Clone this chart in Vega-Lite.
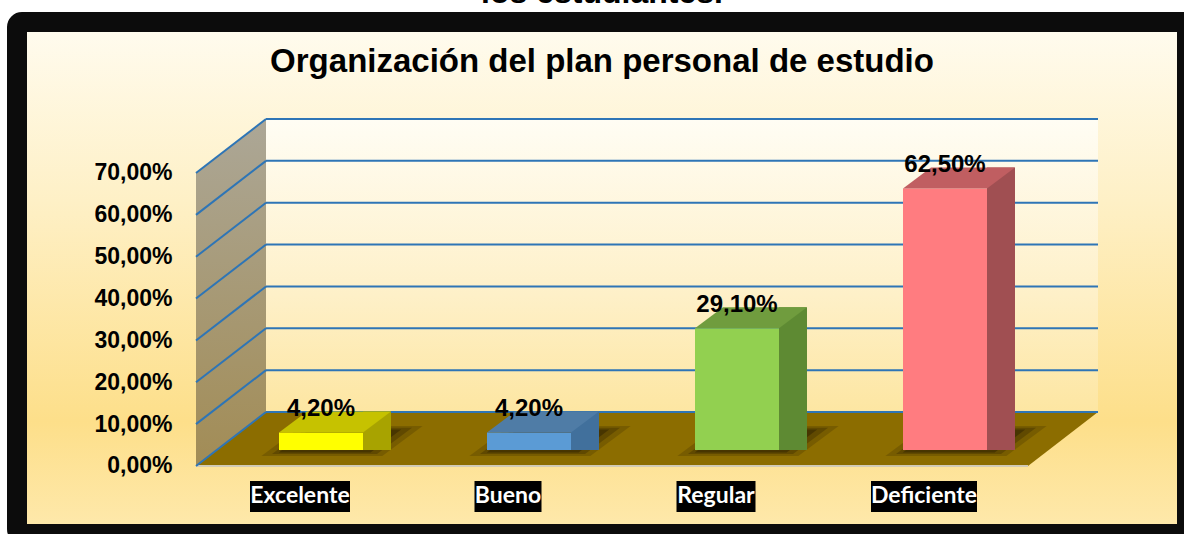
{
  "$schema": "https://vega.github.io/schema/vega-lite/v6.json",
  "width": 1170,
  "height": 512,
  "autosize": {"type": "none"},
  "padding": {"left": 17, "top": 22, "right": 0, "bottom": 0},
  "background": "#ffffff",
  "title": {
    "text": "los estudiantes.",
    "subtitle": "Organización del plan personal de estudio",
    "anchor": "middle",
    "frame": "group",
    "font": "Liberation Sans",
    "fontSize": 32,
    "fontWeight": "bold",
    "color": "#000000",
    "subtitleFont": "Liberation Sans",
    "subtitleFontSize": 33,
    "subtitleFontWeight": "bold",
    "subtitleColor": "#000000",
    "subtitlePadding": 36,
    "offset": -58
  },
  "config": {
    "locale": {"number": {"decimal": ",", "thousands": ".", "grouping": [3], "currency": ["", " €"]}},
    "view": {
      "fill": {"gradient": "linear", "x1": 0, "y1": 0, "x2": 0, "y2": 1, "stops": [
        {"offset": 0, "color": "#fffcf0"},
        {"offset": 0.35, "color": "#fef0c6"},
        {"offset": 0.78, "color": "#fddf8a"},
        {"offset": 1, "color": "#fee9ad"}
      ]},
      "stroke": "#0c0c0c",
      "strokeWidth": 20,
      "cornerRadius": 5
    }
  },
  "datasets": {
    "datos": [
      {"categoria": "Excelente", "porcentaje": 0.042},
      {"categoria": "Bueno", "porcentaje": 0.042},
      {"categoria": "Regular", "porcentaje": 0.291},
      {"categoria": "Deficiente", "porcentaje": 0.625}
    ],
    "reticula": [
      {"valor": 0}, {"valor": 0.1}, {"valor": 0.2}, {"valor": 0.3},
      {"valor": 0.4}, {"valor": 0.5}, {"valor": 0.6}, {"valor": 0.7}
    ],
    "fondo": [{"elemento": "plano"}]
  },
  "layer": [
    {
      "data": {"name": "fondo"},
      "mark": {"type": "point", "filled": true, "opacity": 1, "strokeWidth": 0,
        "shape": "M-1,-0.351 L1,-0.351 L1,0.351 L-1,0.351 Z", "size": 692224,
        "xOffset": -34, "yOffset": -37.5,
        "fill": {"gradient": "linear", "x1": 0, "y1": 0, "x2": 0, "y2": 1, "stops": [
          {"offset": 0, "color": "#fffdf4"},
          {"offset": 0.6, "color": "#fef0c8"},
          {"offset": 1, "color": "#fde6a2"}
        ]}},
      "encoding": {
        "x": {"datum": "Regular", "type": "nominal", "scale": {"type": "band", "domain": ["Excelente", "Bueno", "Regular", "Deficiente"], "range": [179, 1011], "paddingInner": 0, "paddingOuter": 0}, "axis": null},
        "y": {"datum": 0.35, "type": "quantitative", "scale": {"domain": [-0.20067, 1.02246], "nice": false, "zero": false},
          "axis": {"values": [0, 0.1, 0.2, 0.3, 0.4, 0.5, 0.6, 0.7], "format": ".2%", "labelFont": "Liberation Sans", "labelFontSize": 23, "labelFontWeight": "bold", "labelColor": "#000000", "domain": false, "ticks": false, "tickSize": 0, "grid": false, "title": null, "offset": -158, "labelPadding": 3, "labelOffset": 16, "zindex": 1}}
      }
    },
    {
      "data": {"name": "fondo"},
      "mark": {"type": "point", "filled": true, "opacity": 1, "strokeWidth": 0,
        "shape": "M-0.20173,1 L0.20173,0.68876 L0.20173,-1 L-0.20173,-0.68876 Z", "size": 120409,
        "xOffset": -69, "yOffset": -11,
        "fill": {"gradient": "linear", "x1": 0, "y1": 0, "x2": 0, "y2": 1, "stops": [
          {"offset": 0, "color": "#aca797"},
          {"offset": 1, "color": "#a28c55"}
        ]}},
      "encoding": {
        "x": {"datum": "Excelente", "type": "nominal", "scale": {"type": "band", "domain": ["Excelente", "Bueno", "Regular", "Deficiente"], "range": [179, 1011], "paddingInner": 0, "paddingOuter": 0}, "axis": null},
        "y": {"datum": 0.35, "type": "quantitative", "scale": {"domain": [-0.20067, 1.02246], "nice": false, "zero": false},
          "axis": {"values": [0, 0.1, 0.2, 0.3, 0.4, 0.5, 0.6, 0.7], "format": ".2%", "labelFont": "Liberation Sans", "labelFontSize": 23, "labelFontWeight": "bold", "labelColor": "#000000", "domain": false, "ticks": false, "tickSize": 0, "grid": false, "title": null, "offset": -158, "labelPadding": 3, "labelOffset": 16, "zindex": 1}}
      }
    },
    {
      "data": {"name": "fondo"},
      "mark": {"type": "point", "filled": true, "opacity": 1, "strokeWidth": 0,
        "shape": "M-1,0.05987 L0.84479,0.05987 L1,-0.05987 L-0.84479,-0.05987 Z", "size": 813604,
        "xOffset": -69, "yOffset": -11, "fill": "#8c6d00"},
      "encoding": {
        "x": {"datum": "Regular", "type": "nominal", "scale": {"type": "band", "domain": ["Excelente", "Bueno", "Regular", "Deficiente"], "range": [179, 1011], "paddingInner": 0, "paddingOuter": 0}, "axis": null},
        "y": {"datum": 0, "type": "quantitative", "scale": {"domain": [-0.20067, 1.02246], "nice": false, "zero": false},
          "axis": {"values": [0, 0.1, 0.2, 0.3, 0.4, 0.5, 0.6, 0.7], "format": ".2%", "labelFont": "Liberation Sans", "labelFontSize": 23, "labelFontWeight": "bold", "labelColor": "#000000", "domain": false, "ticks": false, "tickSize": 0, "grid": false, "title": null, "offset": -158, "labelPadding": 3, "labelOffset": 16, "zindex": 1}}
      }
    },
    {
      "data": {"name": "fondo"},
      "mark": {"type": "rule", "color": "#d2cbb6", "strokeWidth": 2, "xOffset": -104, "x2Offset": 104, "yOffset": 16},
      "encoding": {
        "x": {"datum": "Excelente", "type": "nominal", "scale": {"type": "band", "domain": ["Excelente", "Bueno", "Regular", "Deficiente"], "range": [179, 1011], "paddingInner": 0, "paddingOuter": 0}, "axis": null},
        "x2": {"datum": "Deficiente"},
        "y": {"datum": 0, "type": "quantitative", "scale": {"domain": [-0.20067, 1.02246], "nice": false, "zero": false},
          "axis": {"values": [0, 0.1, 0.2, 0.3, 0.4, 0.5, 0.6, 0.7], "format": ".2%", "labelFont": "Liberation Sans", "labelFontSize": 23, "labelFontWeight": "bold", "labelColor": "#000000", "domain": false, "ticks": false, "tickSize": 0, "grid": false, "title": null, "offset": -158, "labelPadding": 3, "labelOffset": 16, "zindex": 1}}
      }
    },
    {
      "data": {"name": "reticula"},
      "mark": {"type": "rule", "color": "#2e75b6", "strokeWidth": 2, "xOffset": -34, "x2Offset": 174, "yOffset": -38},
      "encoding": {
        "x": {"datum": "Excelente", "type": "nominal", "scale": {"type": "band", "domain": ["Excelente", "Bueno", "Regular", "Deficiente"], "range": [179, 1011], "paddingInner": 0, "paddingOuter": 0}, "axis": null},
        "x2": {"datum": "Deficiente"},
        "y": {"field": "valor", "type": "quantitative", "scale": {"domain": [-0.20067, 1.02246], "nice": false, "zero": false},
          "axis": {"values": [0, 0.1, 0.2, 0.3, 0.4, 0.5, 0.6, 0.7], "format": ".2%", "labelFont": "Liberation Sans", "labelFontSize": 23, "labelFontWeight": "bold", "labelColor": "#000000", "domain": false, "ticks": false, "tickSize": 0, "grid": false, "title": null, "offset": -158, "labelPadding": 3, "labelOffset": 16, "zindex": 1}}
      }
    },
    {
      "data": {"name": "reticula"},
      "mark": {"type": "rule", "color": "#2e75b6", "strokeWidth": 2, "xOffset": -104, "x2Offset": -34, "yOffset": 16, "y2Offset": -38},
      "encoding": {
        "x": {"datum": "Excelente", "type": "nominal", "scale": {"type": "band", "domain": ["Excelente", "Bueno", "Regular", "Deficiente"], "range": [179, 1011], "paddingInner": 0, "paddingOuter": 0}, "axis": null},
        "x2": {"datum": "Excelente"},
        "y": {"field": "valor", "type": "quantitative", "scale": {"domain": [-0.20067, 1.02246], "nice": false, "zero": false},
          "axis": {"values": [0, 0.1, 0.2, 0.3, 0.4, 0.5, 0.6, 0.7], "format": ".2%", "labelFont": "Liberation Sans", "labelFontSize": 23, "labelFontWeight": "bold", "labelColor": "#000000", "domain": false, "ticks": false, "tickSize": 0, "grid": false, "title": null, "offset": -158, "labelPadding": 3, "labelOffset": 16, "zindex": 1}},
        "y2": {"field": "valor"}
      }
    },
    {
      "data": {"name": "datos"},
      "mark": {"type": "point", "filled": true, "opacity": 0.18, "strokeWidth": 0, "fill": "#1a1000",
        "shape": "M-1,0.1875 L-0.5,-0.1875 L1,-0.1875 L0.5,0.1875 Z", "size": 26000, "xOffset": 42, "yOffset": -9},
      "encoding": {
        "x": {"field": "categoria", "type": "nominal", "scale": {"type": "band", "domain": ["Excelente", "Bueno", "Regular", "Deficiente"], "range": [179, 1011], "paddingInner": 0, "paddingOuter": 0}, "axis": null},
        "y": {"datum": 0, "type": "quantitative", "scale": {"domain": [-0.20067, 1.02246], "nice": false, "zero": false},
          "axis": {"values": [0, 0.1, 0.2, 0.3, 0.4, 0.5, 0.6, 0.7], "format": ".2%", "labelFont": "Liberation Sans", "labelFontSize": 23, "labelFontWeight": "bold", "labelColor": "#000000", "domain": false, "ticks": false, "tickSize": 0, "grid": false, "title": null, "offset": -158, "labelPadding": 3, "labelOffset": 16, "zindex": 1}}
      }
    },
    {
      "data": {"name": "datos"},
      "mark": {"type": "point", "filled": true, "opacity": 0.25, "strokeWidth": 0, "fill": "#1a1000",
        "shape": "M-1,0.1875 L-0.5,-0.1875 L1,-0.1875 L0.5,0.1875 Z", "size": 19600, "xOffset": 42, "yOffset": -9},
      "encoding": {
        "x": {"field": "categoria", "type": "nominal", "scale": {"type": "band", "domain": ["Excelente", "Bueno", "Regular", "Deficiente"], "range": [179, 1011], "paddingInner": 0, "paddingOuter": 0}, "axis": null},
        "y": {"datum": 0, "type": "quantitative", "scale": {"domain": [-0.20067, 1.02246], "nice": false, "zero": false},
          "axis": {"values": [0, 0.1, 0.2, 0.3, 0.4, 0.5, 0.6, 0.7], "format": ".2%", "labelFont": "Liberation Sans", "labelFontSize": 23, "labelFontWeight": "bold", "labelColor": "#000000", "domain": false, "ticks": false, "tickSize": 0, "grid": false, "title": null, "offset": -158, "labelPadding": 3, "labelOffset": 16, "zindex": 1}}
      }
    },
    {
      "data": {"name": "datos"},
      "mark": {"type": "point", "filled": true, "opacity": 0.35, "strokeWidth": 0, "fill": "#1a1000",
        "shape": "M-1,0.1875 L-0.5,-0.1875 L1,-0.1875 L0.5,0.1875 Z", "size": 15000, "xOffset": 40, "yOffset": -9},
      "encoding": {
        "x": {"field": "categoria", "type": "nominal", "scale": {"type": "band", "domain": ["Excelente", "Bueno", "Regular", "Deficiente"], "range": [179, 1011], "paddingInner": 0, "paddingOuter": 0}, "axis": null},
        "y": {"datum": 0, "type": "quantitative", "scale": {"domain": [-0.20067, 1.02246], "nice": false, "zero": false},
          "axis": {"values": [0, 0.1, 0.2, 0.3, 0.4, 0.5, 0.6, 0.7], "format": ".2%", "labelFont": "Liberation Sans", "labelFontSize": 23, "labelFontWeight": "bold", "labelColor": "#000000", "domain": false, "ticks": false, "tickSize": 0, "grid": false, "title": null, "offset": -158, "labelPadding": 3, "labelOffset": 16, "zindex": 1}}
      }
    },
    {
      "data": {"name": "datos"},
      "mark": {"type": "bar", "width": 28, "xOffset": 77, "yOffset": -21, "y2Offset": 0},
      "encoding": {
        "x": {"field": "categoria", "type": "nominal", "scale": {"type": "band", "domain": ["Excelente", "Bueno", "Regular", "Deficiente"], "range": [179, 1011], "paddingInner": 0, "paddingOuter": 0}, "axis": null},
        "y": {"field": "porcentaje", "type": "quantitative", "scale": {"domain": [-0.20067, 1.02246], "nice": false, "zero": false},
          "axis": {"values": [0, 0.1, 0.2, 0.3, 0.4, 0.5, 0.6, 0.7], "format": ".2%", "labelFont": "Liberation Sans", "labelFontSize": 23, "labelFontWeight": "bold", "labelColor": "#000000", "domain": false, "ticks": false, "tickSize": 0, "grid": false, "title": null, "offset": -158, "labelPadding": 3, "labelOffset": 16, "zindex": 1}},
        "y2": {"datum": 0},
        "color": {"field": "categoria", "type": "nominal", "scale": {"domain": ["Excelente", "Bueno", "Regular", "Deficiente"], "range": ["#a8a300", "#41709c", "#5e8a33", "#a04f52"]}, "legend": null}
      }
    },
    {
      "data": {"name": "datos"},
      "mark": {"type": "bar", "width": 84, "xOffset": 21},
      "encoding": {
        "x": {"field": "categoria", "type": "nominal", "scale": {"type": "band", "domain": ["Excelente", "Bueno", "Regular", "Deficiente"], "range": [179, 1011], "paddingInner": 0, "paddingOuter": 0}, "axis": null},
        "y": {"field": "porcentaje", "type": "quantitative", "scale": {"domain": [-0.20067, 1.02246], "nice": false, "zero": false},
          "axis": {"values": [0, 0.1, 0.2, 0.3, 0.4, 0.5, 0.6, 0.7], "format": ".2%", "labelFont": "Liberation Sans", "labelFontSize": 23, "labelFontWeight": "bold", "labelColor": "#000000", "domain": false, "ticks": false, "tickSize": 0, "grid": false, "title": null, "offset": -158, "labelPadding": 3, "labelOffset": 16, "zindex": 1}},
        "y2": {"datum": 0},
        "color": {"field": "categoria", "type": "nominal", "scale": {"domain": ["Excelente", "Bueno", "Regular", "Deficiente"], "range": ["#ffff00", "#5b9bd5", "#92d050", "#ff7c80"]}, "legend": null}
      }
    },
    {
      "data": {"name": "datos"},
      "mark": {"type": "point", "filled": true, "opacity": 1, "strokeWidth": 0,
        "shape": "M-1,0.1875 L-0.5,-0.1875 L1,-0.1875 L0.5,0.1875 Z", "size": 12544, "xOffset": 35, "yOffset": -10.5},
      "encoding": {
        "x": {"field": "categoria", "type": "nominal", "scale": {"type": "band", "domain": ["Excelente", "Bueno", "Regular", "Deficiente"], "range": [179, 1011], "paddingInner": 0, "paddingOuter": 0}, "axis": null},
        "y": {"field": "porcentaje", "type": "quantitative", "scale": {"domain": [-0.20067, 1.02246], "nice": false, "zero": false},
          "axis": {"values": [0, 0.1, 0.2, 0.3, 0.4, 0.5, 0.6, 0.7], "format": ".2%", "labelFont": "Liberation Sans", "labelFontSize": 23, "labelFontWeight": "bold", "labelColor": "#000000", "domain": false, "ticks": false, "tickSize": 0, "grid": false, "title": null, "offset": -158, "labelPadding": 3, "labelOffset": 16, "zindex": 1}},
        "color": {"field": "categoria", "type": "nominal", "scale": {"domain": ["Excelente", "Bueno", "Regular", "Deficiente"], "range": ["#c6c200", "#4f7ca6", "#709c3e", "#c05e61"]}, "legend": null}
      }
    },
    {
      "data": {"name": "datos"},
      "mark": {"type": "text", "font": "Liberation Sans", "fontSize": 24, "fontWeight": "bold", "color": "#000000", "align": "center", "baseline": "alphabetic", "xOffset": 21, "yOffset": -16.5},
      "encoding": {
        "x": {"field": "categoria", "type": "nominal", "scale": {"type": "band", "domain": ["Excelente", "Bueno", "Regular", "Deficiente"], "range": [179, 1011], "paddingInner": 0, "paddingOuter": 0}, "axis": null},
        "y": {"field": "porcentaje", "type": "quantitative", "scale": {"domain": [-0.20067, 1.02246], "nice": false, "zero": false},
          "axis": {"values": [0, 0.1, 0.2, 0.3, 0.4, 0.5, 0.6, 0.7], "format": ".2%", "labelFont": "Liberation Sans", "labelFontSize": 23, "labelFontWeight": "bold", "labelColor": "#000000", "domain": false, "ticks": false, "tickSize": 0, "grid": false, "title": null, "offset": -158, "labelPadding": 3, "labelOffset": 16, "zindex": 1}},
        "text": {"field": "porcentaje", "type": "quantitative", "format": ".2%"}
      }
    },
    {
      "data": {"name": "datos"},
      "mark": {"type": "bar", "color": "#000000"},
      "encoding": {
        "x": {"field": "categoria", "type": "nominal", "scale": {"type": "band", "domain": ["Excelente", "Bueno", "Regular", "Deficiente"], "range": [179, 1011], "paddingInner": 0, "paddingOuter": 0}, "axis": null},
        "y": {"datum": -0.07406, "type": "quantitative", "scale": {"domain": [-0.20067, 1.02246], "nice": false, "zero": false},
          "axis": {"values": [0, 0.1, 0.2, 0.3, 0.4, 0.5, 0.6, 0.7], "format": ".2%", "labelFont": "Liberation Sans", "labelFontSize": 23, "labelFontWeight": "bold", "labelColor": "#000000", "domain": false, "ticks": false, "tickSize": 0, "grid": false, "title": null, "offset": -158, "labelPadding": 3, "labelOffset": 16, "zindex": 1}},
        "y2": {"datum": -0.14811},
        "size": {"field": "categoria", "type": "nominal", "scale": {"type": "ordinal", "domain": ["Excelente", "Bueno", "Regular", "Deficiente"], "range": [100, 67, 79, 106]}, "legend": null}
      }
    },
    {
      "data": {"name": "datos"},
      "mark": {"type": "text", "font": "Lato", "fontSize": 23, "fontWeight": "bold", "color": "#ffffff", "align": "center", "baseline": "middle"},
      "encoding": {
        "x": {"field": "categoria", "type": "nominal", "scale": {"type": "band", "domain": ["Excelente", "Bueno", "Regular", "Deficiente"], "range": [179, 1011], "paddingInner": 0, "paddingOuter": 0}, "axis": null},
        "y": {"datum": -0.11108, "type": "quantitative", "scale": {"domain": [-0.20067, 1.02246], "nice": false, "zero": false},
          "axis": {"values": [0, 0.1, 0.2, 0.3, 0.4, 0.5, 0.6, 0.7], "format": ".2%", "labelFont": "Liberation Sans", "labelFontSize": 23, "labelFontWeight": "bold", "labelColor": "#000000", "domain": false, "ticks": false, "tickSize": 0, "grid": false, "title": null, "offset": -158, "labelPadding": 3, "labelOffset": 16, "zindex": 1}},
        "text": {"field": "categoria", "type": "nominal"}
      }
    }
  ],
  "resolve": {"scale": {"color": "independent", "size": "independent"}}
}
